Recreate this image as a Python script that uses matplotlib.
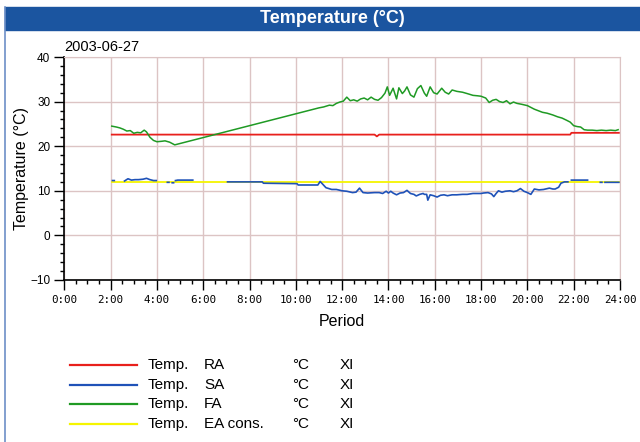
import numpy as np
import matplotlib as mpl
mpl.use("Agg")
import matplotlib.pyplot as plt
from matplotlib.patches import Rectangle
from matplotlib.lines import Line2D
from matplotlib.ticker import MultipleLocator, FuncFormatter

nan = np.nan

# hours of the day / temperature in degC
ra_t = [2.05, 13.4, 13.5, 13.6, 21.85, 21.9, 23.95]
ra_v = [22.6, 22.6, 22.2, 22.6, 22.6, 23.0, 23.0]

ea_t = [2.05, 23.95]
ea_v = [12.0, 12.0]

fa_t = [2.05, 2.25, 2.4, 2.55, 2.7, 2.85, 3.0, 3.15, 3.3, 3.45, 3.55, 3.7, 3.85,
        4.0, 4.2, 4.35, 4.55, 4.77, 11.0, 11.2, 11.45, 11.6, 11.75, 11.9, 12.05,
        12.2, 12.35, 12.5, 12.65, 12.8, 12.95, 13.1, 13.25, 13.4, 13.55, 13.7,
        13.85, 13.95, 14.05, 14.2, 14.35, 14.45, 14.6, 14.7, 14.8, 14.95, 15.1,
        15.25, 15.4, 15.55, 15.65, 15.8, 15.95, 16.1, 16.3, 16.45, 16.6, 16.75,
        16.95, 17.2, 17.4, 17.65, 17.85, 18.0, 18.2, 18.35, 18.5, 18.65, 18.8,
        18.95, 19.1, 19.25, 19.4, 19.55, 19.75, 20.0, 20.15, 20.3, 20.45, 20.65,
        20.85, 21.1, 21.3, 21.5, 21.7, 21.85, 22.0, 22.15, 22.3, 22.45, 22.6,
        22.8, 23.0, 23.2, 23.4, 23.6, 23.8, 23.92]
fa_v = [24.5, 24.3, 24.1, 23.8, 23.4, 23.5, 22.9, 23.1, 23.0, 23.6, 23.2, 22.0, 21.3,
        21.0, 21.1, 21.2, 20.9, 20.3, 28.6, 28.8, 29.2, 29.1, 29.6, 29.9, 30.1,
        31.0, 30.2, 30.4, 30.1, 30.6, 30.8, 30.4, 31.0, 30.5, 30.3, 30.9,
        31.9, 33.3, 31.4, 33.0, 30.6, 33.1, 31.8, 32.4, 33.3, 31.5, 31.0,
        32.9, 33.6, 31.9, 31.2, 33.3, 32.0, 31.7, 33.0, 32.1, 31.7, 32.6,
        32.3, 32.1, 31.8, 31.4, 31.3, 31.2, 30.8, 29.8, 30.3, 30.5, 30.0,
        29.8, 30.2, 29.5, 29.9, 29.6, 29.4, 29.1, 28.7, 28.3, 28.0, 27.6,
        27.4, 27.0, 26.6, 26.3, 25.8, 25.4, 24.6, 24.4, 24.3, 23.7, 23.6,
        23.6, 23.5, 23.6, 23.5, 23.6, 23.5, 23.7]

sa_t = [2.08, 2.16, nan,
        2.6, 2.75, 2.9, 3.05, 3.2, 3.4, 3.55, 3.7, 3.85, 3.97, nan,
        4.45, 4.52, nan, 4.66, 4.72, nan,
        4.8, 4.9, 5.2, 5.55, nan,
        7.05, 8.55, 8.6, 10.05, 10.1, 10.95, 11.05, 11.3, 11.55, 11.75, 12.0, 12.2,
        12.45, 12.6, 12.75, 12.9, 13.1, 13.4, 13.6, 13.75, 13.9, 14.0, 14.1, 14.2,
        14.35, 14.5, 14.65, 14.8, 14.95, 15.1, 15.2, 15.35, 15.5, 15.55, 15.65,
        15.7, 15.8, 15.95, 16.1, 16.25, 16.4, 16.55, 16.75, 16.95, 17.2, 17.4,
        17.65, 17.9, 18.0, 18.1, 18.3, 18.45, 18.55, 18.65, 18.75, 18.9, 19.05,
        19.25, 19.4, 19.55, 19.7, 19.85, 20.0, 20.15, 20.3, 20.5, 20.7, 20.95,
        21.1, 21.2, 21.35, 21.45, 21.6, 21.75, nan,
        21.9, 22.4, 22.6, nan, 23.15, 23.22, nan, 23.35, 23.95]
sa_v = [12.3, 12.3, nan,
        12.2, 12.7, 12.4, 12.5, 12.5, 12.6, 12.8, 12.5, 12.3, 12.3, nan,
        11.9, 11.9, nan, 11.8, 11.8, nan,
        12.3, 12.4, 12.4, 12.4, nan,
        12.0, 12.0, 11.7, 11.6, 11.3, 11.3, 12.1, 10.7, 10.3, 10.3, 10.0, 9.9,
        9.6, 9.7, 10.6, 9.6, 9.5, 9.6, 9.6, 9.4, 9.9, 9.5, 9.9, 9.5,
        9.1, 9.5, 9.6, 10.1, 9.4, 9.2, 8.85, 9.2, 9.4, 9.2, 9.2,
        7.9, 9.1, 8.9, 8.6, 9.0, 9.1, 8.9, 9.1, 9.1, 9.2, 9.2,
        9.4, 9.4, 9.4, 9.5, 9.6, 9.3, 8.7, 9.4, 10.0, 9.7, 9.9,
        10.0, 9.8, 10.0, 10.5, 9.9, 9.6, 9.2, 10.4, 10.2, 10.3, 10.6,
        10.4, 10.4, 10.8, 11.7, 12.0, 12.0, nan,
        12.4, 12.4, 12.4, nan, 11.9, 11.9, nan, 11.9, 11.9]

names = ["RA", "SA", "FA", "EA cons."]
colors = ["#e8201c", "#1f52b8", "#1f9a24", "#f5f500"]

fig = plt.figure(figsize=(6.4, 4.42), dpi=100)

# header bar and frame
fig.patches.append(Rectangle((5 / 640, 1 - 30 / 442), 1, 23 / 442,
                             transform=fig.transFigure, color="#1b55a0", zorder=0))
fig.add_artist(Line2D([5 / 640, 5 / 640], [0, 1 - 7 / 442], color="#6d8fc7", lw=1.2))
fig.text(0.52, 1 - 18.5 / 442, "Temperature (°C)", color="white", ha="center",
         va="center", fontsize=13, fontweight="bold", family="Liberation Sans")

ax = fig.add_axes([64.3 / 640, 1 - 280 / 442, (620 - 64.3) / 640, 223 / 442])

ax.plot(ea_t, ea_v, color=colors[3], lw=1.3, zorder=3)
ax.plot(ra_t, ra_v, color=colors[0], lw=1.3, zorder=4)
ax.plot(sa_t, sa_v, color=colors[1], lw=1.2, zorder=5)
ax.plot(fa_t, fa_v, color=colors[2], lw=1.1, zorder=5)

grid_c = "#dcc4c4"
ax.set_xlim(0, 24)
ax.set_ylim(-10, 40)
ax.xaxis.set_major_locator(MultipleLocator(2))
ax.xaxis.set_minor_locator(MultipleLocator(0.5))
ax.yaxis.set_major_locator(MultipleLocator(10))
ax.yaxis.set_minor_locator(MultipleLocator(2))
ax.xaxis.set_major_formatter(FuncFormatter(lambda v, p: "%d:00" % v))
ax.grid(True, which="major", color=grid_c, lw=1)
ax.set_axisbelow(True)
for s in ["top", "right"]:
    ax.spines[s].set_color(grid_c)
ax.spines["left"].set_linewidth(1.2)
ax.spines["bottom"].set_linewidth(1.2)
ax.tick_params(which="major", length=7, width=1)
ax.tick_params(which="minor", length=3, width=1)
ax.tick_params(axis="x", labelsize=7.8, pad=4)
ax.tick_params(axis="y", labelsize=8.5, pad=3)
for lab in ax.get_xticklabels():
    lab.set_family("DejaVu Sans Mono")
for lab in ax.get_yticklabels():
    lab.set_family("Liberation Sans")

ax.set_xlabel("Period", fontsize=11.5, family="Liberation Sans", labelpad=6)
ax.set_ylabel("Temperature (°C)", fontsize=11.5, family="Liberation Sans", labelpad=1)
ax.text(0, 1.015, "2003-06-27", transform=ax.transAxes, fontsize=10.5,
        family="Liberation Sans", ha="left", va="bottom")

# legend rows
for i, (n, c) in enumerate(zip(names, colors)):
    y = 1 - (365 + i * 19.7) / 442
    fig.add_artist(Line2D([70 / 640, 137 / 640], [y, y], color=c, lw=1.6))
    for x, t in [(148, "Temp."), (204, n), (292, "°C"), (340, "XI")]:
        fig.text(x / 640, y, t, fontsize=11, family="Liberation Sans", va="center")

fig.savefig("out.png", dpi=100)
